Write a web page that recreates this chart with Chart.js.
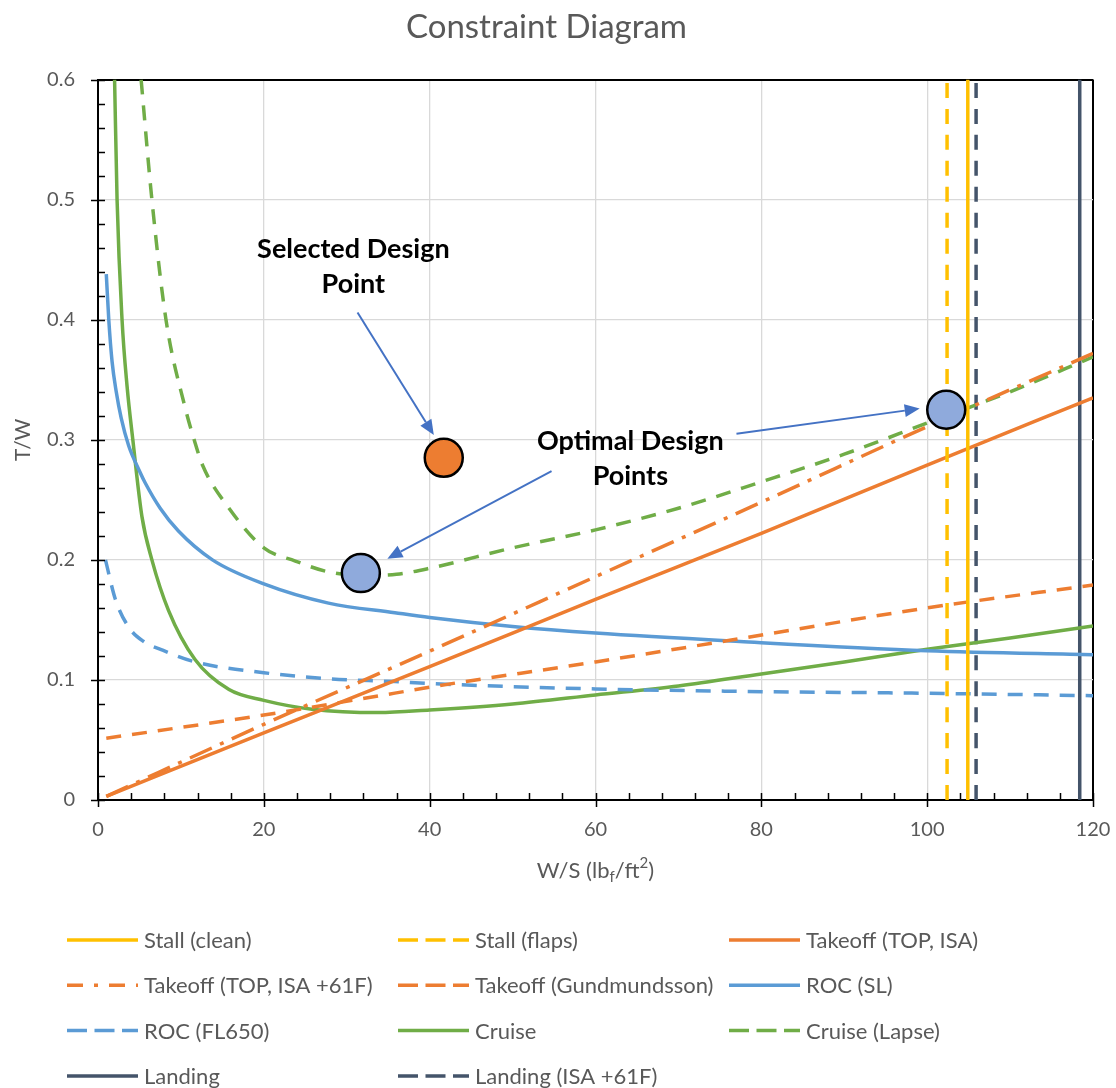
<!DOCTYPE html>
<html>
<head>
<meta charset="utf-8">
<title>Constraint Diagram</title>
<script src="https://cdn.jsdelivr.net/npm/chart.js@4/dist/chart.umd.min.js"></script>
<style>
  html, body { margin: 0; padding: 0; background: #fff; }
</style>
</head>
<body>
<canvas id="myChart" width="1116" height="1088"></canvas>
<script>
const FONT = "Lato, 'Open Sans', sans-serif";
const GREY = '#595959';

// values (W/S in lbf/ft^2, T/W)
const verticalTW = [0, 0.6];
const stallCleanWS = [104.9, 104.9];
const stallFlapsWS = [102.4, 102.4];
const landingWS = [118.4, 118.4];
const landingHotWS = [105.9, 105.9];

const takeoffWS = [1, 20, 40, 60, 80, 100, 120];
const takeoffIsaTW = [0.003, 0.056, 0.111, 0.167, 0.222, 0.279, 0.335];
const takeoffHotTW = [0.003, 0.063, 0.124, 0.186, 0.248, 0.311, 0.372];

const gundWS = [1, 20, 35.8, 40, 60, 76.2, 100, 120];
const gundTW = [0.0514, 0.0708, 0.089, 0.094, 0.115, 0.133, 0.16, 0.179];

const rocSlWS = [1, 1.3, 1.7, 2.2, 2.8, 3.7, 5, 5.7, 7.5, 9.7, 13.8, 20, 27.8, 35.8, 40, 50, 60, 77.4, 100, 120];
const rocSlTW = [0.438, 0.4, 0.365, 0.34, 0.318, 0.295, 0.274, 0.264, 0.243, 0.224, 0.2, 0.18, 0.164, 0.156, 0.152, 0.1445, 0.139, 0.132, 0.1244, 0.121];

const rocFlWS = [0.9, 2.1, 3.7, 5.5, 7.7, 11.7, 20, 27.8, 35.8, 40, 60, 77.4, 100, 120];
const rocFlTW = [0.2, 0.167, 0.144, 0.132, 0.125, 0.115, 0.106, 0.101, 0.0986, 0.097, 0.0925, 0.0905, 0.0889, 0.0869];

const cruiseWS = [2.0, 2.3, 2.9, 3.5, 4.2, 5.3, 6.5, 8.5, 11.7, 15.8, 20, 25.8, 33.8, 40, 50, 60, 70, 80, 90, 100, 110, 120];
const cruiseTW = [0.6, 0.5, 0.4, 0.345, 0.3, 0.236, 0.2, 0.158, 0.117, 0.092, 0.083, 0.0756, 0.0728, 0.075, 0.08, 0.0875, 0.095, 0.105, 0.115, 0.1256, 0.135, 0.145];

const lapseWS = [5.2, 6.5, 8.2, 10.5, 11.6, 12.6, 15.8, 20, 23.8, 27.8, 32, 36, 40, 50, 60, 70, 80, 90, 100, 110, 120];
const lapseTW = [0.6, 0.5, 0.4, 0.327, 0.3, 0.279, 0.243, 0.21, 0.199, 0.19, 0.187, 0.188, 0.193, 0.21, 0.225, 0.243, 0.265, 0.288, 0.314, 0.34, 0.369];

const selectedWS = [41.7];
const selectedTW = [0.285];
const optimalWS = [31.7, 102.3];
const optimalTW = [0.189, 0.325];

// callouts, in chart units
const notes = [
    { lines: ['Selected Design', 'Point'], x: 30.8, y: 0.459 },
    { lines: ['Optimal Design', 'Points'], x: 64.2, y: 0.299 },
];
const arrows = [
    { from: [31.3, 0.406], to: [40.5, 0.304] },
    { from: [54.7, 0.274], to: [34.9, 0.201] },
    { from: [77.0, 0.305], to: [99.1, 0.326] },
];

const pts = (xs, ys) => xs.map((x, i) => ({ x: x, y: ys[i] }));

const DASH = [15, 11];
const DASHDOT = [24, 9, 4, 9];

function line(label, xs, ys, color, dash, legendDash) {
    return {
        label: label,
        data: pts(xs, ys),
        showLine: true,
        borderColor: color,
        backgroundColor: color,
        borderWidth: 3.5,
        borderDash: dash || [],
        legendDash: legendDash || [],
        pointRadius: 0,
        cubicInterpolationMode: 'monotone',
        fill: false,
    };
}

function marker(xs, ys, color) {
    return {
        label: '',
        data: pts(xs, ys),
        inLegend: false,
        showLine: false,
        pointRadius: 19,
        pointHoverRadius: 19,
        pointBackgroundColor: color,
        pointBorderColor: '#000',
        pointBorderWidth: 2.5,
    };
}

const datasets = [
    marker(selectedWS, selectedTW, '#ED7D31'),
    marker(optimalWS, optimalTW, '#8FAADC'),
    line('Stall (clean)', stallCleanWS, verticalTW, '#FFC000'),
    line('Stall (flaps)', stallFlapsWS, verticalTW, '#FFC000', DASH, [20, 7.5]),
    line('Takeoff (TOP, ISA)', takeoffWS, takeoffIsaTW, '#ED7D31'),
    line('Takeoff (TOP, ISA +61F)', takeoffWS, takeoffHotTW, '#ED7D31', DASHDOT, [16, 11, 4, 11]),
    line('Takeoff (Gundmundsson)', gundWS, gundTW, '#ED7D31', DASH, [20, 7.5]),
    line('ROC (SL)', rocSlWS, rocSlTW, '#5B9BD5'),
    line('ROC (FL650)', rocFlWS, rocFlTW, '#5B9BD5', DASH, [20, 7.5]),
    line('Cruise', cruiseWS, cruiseTW, '#70AD47'),
    line('Cruise (Lapse)', lapseWS, lapseTW, '#70AD47', DASH, [20, 7.5]),
    line('Landing', landingWS, verticalTW, '#44546A'),
    line('Landing (ISA +61F)', landingHotWS, verticalTW, '#44546A', DASH, [20, 7.5]),
];

const extras = {
    id: 'extras',
    afterDraw(chart) {
        const c = chart.ctx;
        const xs = chart.scales.x;
        const ys = chart.scales.y;
        const area = chart.chartArea;

        // axis tick marks: major ones cross the axis, minor ones sit inside
        c.save();
        c.strokeStyle = '#000';
        c.lineWidth = 1.5;
        c.beginPath();
        for (let v = 0; v <= 120; v += 4) {
            const px = Math.round(xs.getPixelForValue(v)) + 0.5;
            const major = v % 20 === 0;
            c.moveTo(px, area.bottom - 7);
            c.lineTo(px, area.bottom + (major ? 7 : 0));
        }
        for (let i = 0; i <= 30; i++) {
            const v = i / 50;
            const py = Math.round(ys.getPixelForValue(v)) + 0.5;
            const major = i % 5 === 0;
            c.moveTo(area.left + 7, py);
            c.lineTo(area.left - (major ? 7 : 0), py);
        }
        c.stroke();
        c.restore();

        // callout arrows
        c.save();
        c.strokeStyle = '#4472C4';
        c.fillStyle = '#4472C4';
        c.lineWidth = 2;
        arrows.forEach(a => {
            const x1 = xs.getPixelForValue(a.from[0]), y1 = ys.getPixelForValue(a.from[1]);
            const x2 = xs.getPixelForValue(a.to[0]), y2 = ys.getPixelForValue(a.to[1]);
            const ang = Math.atan2(y2 - y1, x2 - x1);
            const head = 15, half = 6.5;
            const bx = x2 - head * Math.cos(ang), by = y2 - head * Math.sin(ang);
            c.beginPath();
            c.moveTo(x1, y1);
            c.lineTo(bx, by);
            c.stroke();
            c.beginPath();
            c.moveTo(x2, y2);
            c.lineTo(bx + half * Math.sin(ang), by - half * Math.cos(ang));
            c.lineTo(bx - half * Math.sin(ang), by + half * Math.cos(ang));
            c.closePath();
            c.fill();
        });
        c.restore();

        // callout text
        c.save();
        c.fillStyle = '#000';
        c.font = 'bold 27px ' + FONT;
        c.textAlign = 'center';
        c.textBaseline = 'middle';
        notes.forEach(n => {
            const px = xs.getPixelForValue(n.x);
            const py = ys.getPixelForValue(n.y);
            n.lines.forEach((t, i) => c.fillText(t, px, py + i * 35));
        });
        c.restore();

        // x axis title with subscript / superscript
        c.save();
        c.fillStyle = GREY;
        c.textBaseline = 'middle';
        c.textAlign = 'left';
        const big = '22px ' + FONT, small = '15px ' + FONT;
        const parts = [
            ['W/S (lb', big, 0], ['f', small, 6], ['/ft', big, 0], ['2', small, -8], [')', big, 0],
        ];
        let total = 0;
        parts.forEach(p => { c.font = p[1]; total += c.measureText(p[0]).width; });
        let tx = (area.left + area.right) / 2 - total / 2;
        const ty = area.bottom + 71;
        parts.forEach(p => {
            c.font = p[1];
            c.fillText(p[0], tx, ty + p[2]);
            tx += c.measureText(p[0]).width;
        });
        c.restore();

        // legend: three columns under the plot
        c.save();
        c.font = '22px ' + FONT;
        c.textBaseline = 'middle';
        c.textAlign = 'left';
        let k = 0;
        chart.data.datasets.forEach(ds => {
            if (ds.inLegend === false) return;
            const col = k % 3, row = Math.floor(k / 3);
            const lx = 67 + col * 331;
            const ly = 940 + row * 45.3;
            c.strokeStyle = ds.borderColor;
            c.lineWidth = 3.5;
            c.setLineDash(ds.legendDash);
            c.beginPath();
            c.moveTo(lx, ly);
            c.lineTo(lx + 71, ly);
            c.stroke();
            c.setLineDash([]);
            c.fillStyle = GREY;
            c.fillText(ds.label, lx + 77, ly + 1);
            k++;
        });
        c.restore();
    }
};

const ctx = document.getElementById('myChart');

new Chart(ctx, {
    type: 'scatter',
    data: { datasets: datasets },
    options: {
        responsive: false,
        animation: false,
        devicePixelRatio: 1,
        layout: { padding: { left: 0, right: 23, top: 0, bottom: 238 } },
        plugins: {
            legend: { display: false },
            tooltip: { enabled: false },
            title: {
                display: true,
                text: 'Constraint Diagram',
                color: GREY,
                font: { size: 33, weight: 'normal', family: FONT },
                padding: { top: 8, bottom: 32 },
                lineHeight: 1.2,
            },
        },
        scales: {
            x: {
                type: 'linear',
                min: 0,
                max: 120,
                ticks: { stepSize: 20, color: GREY, font: { size: 20, family: FONT }, padding: 18 },
                grid: {
                    drawTicks: false,
                    color: c => (c.tick && c.tick.value === 120 ? '#000' : '#d9d9d9'),
                    lineWidth: c => (c.tick && c.tick.value === 120 ? 2 : 1.3),
                },
                border: { color: '#000', width: 2 },
                afterFit: s => {
                    s.height = 50;
                    s.paddingLeft = 0;
                    s.paddingRight = 0;
                },
            },
            y: {
                type: 'linear',
                min: 0,
                max: 0.6,
                ticks: {
                    stepSize: 0.1,
                    color: GREY,
                    font: { size: 20, family: FONT },
                    padding: 23,
                    callback: v => (v === 0 ? '0' : v.toFixed(1)),
                },
                grid: {
                    drawTicks: false,
                    color: c => (c.tick && Math.abs(c.tick.value - 0.6) < 1e-9 ? '#000' : '#d9d9d9'),
                    lineWidth: c => (c.tick && Math.abs(c.tick.value - 0.6) < 1e-9 ? 2 : 1.3),
                },
                border: { color: '#000', width: 2 },
                title: {
                    display: true,
                    text: 'T/W',
                    color: GREY,
                    font: { size: 21, family: FONT },
                    padding: { top: 11, bottom: 0 },
                },
                afterFit: s => {
                    s.width = 98;
                    s.paddingTop = 0;
                    s.paddingBottom = 0;
                },
            },
        },
    },
    plugins: [extras],
});
</script>
</body>
</html>
